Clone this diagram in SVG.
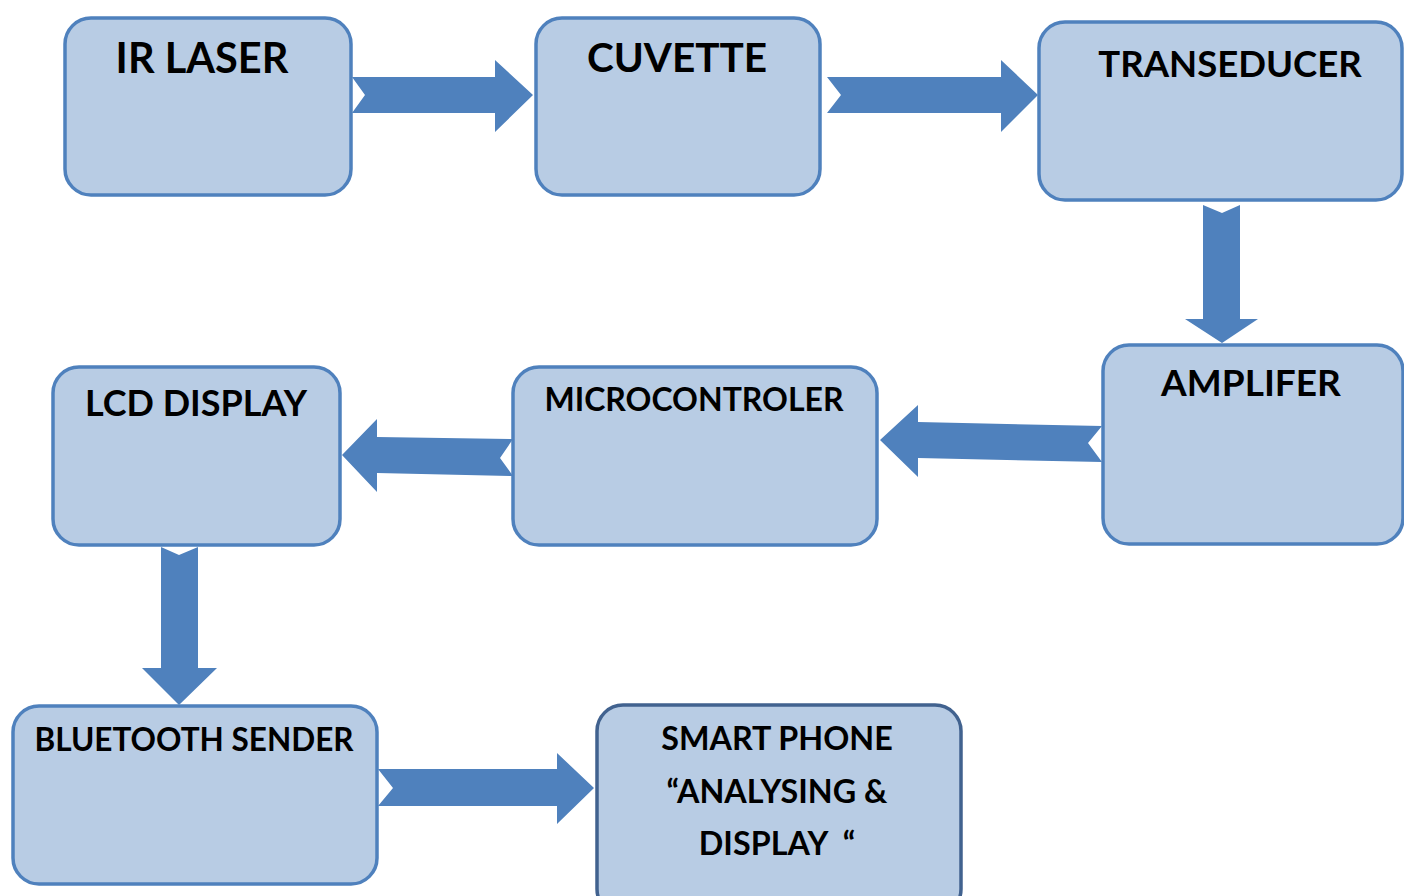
<svg xmlns="http://www.w3.org/2000/svg" width="1404" height="896" viewBox="0 0 1404 896">
  <style>
    .box { fill: #B8CCE4; stroke: #4F81BD; stroke-width: 3.5; }
    .box.dark { stroke: #41628F; }
    .lbl { font-family: "Lato", "Open Sans", "Liberation Sans", sans-serif; font-weight: bold; fill: #000; text-anchor: middle; white-space: pre; }
    .arr { fill: #4F81BD; }
  </style>
  <rect width="1404" height="896" fill="#FFFFFF"/>

  <g id="ir-laser">
    <rect class="box" x="65" y="18" width="286" height="177" rx="26"/>
    <text class="lbl" x="202" y="73" font-size="41.5">IR LASER</text>
  </g>
  <g id="cuvette">
    <rect class="box" x="536" y="18" width="284" height="177" rx="26"/>
    <text class="lbl" x="677" y="72" font-size="40.5">CUVETTE</text>
  </g>
  <g id="transeducer">
    <rect class="box" x="1039" y="22" width="363" height="178" rx="26"/>
    <text class="lbl" x="1230" y="77" font-size="36.5">TRANSEDUCER</text>
  </g>
  <g id="amplifer">
    <rect class="box" x="1103" y="345" width="300" height="199" rx="26"/>
    <text class="lbl" x="1251" y="396" font-size="37">AMPLIFER</text>
  </g>
  <g id="microcontroler">
    <rect class="box" x="513" y="367" width="364" height="178" rx="26"/>
    <text class="lbl" x="694" y="411" font-size="32">MICROCONTROLER</text>
  </g>
  <g id="lcd-display">
    <rect class="box" x="53" y="367" width="287" height="178" rx="26"/>
    <text class="lbl" x="196" y="416" font-size="36">LCD DISPLAY</text>
  </g>
  <g id="bluetooth-sender">
    <rect class="box" x="13" y="706" width="364" height="178" rx="26"/>
    <text class="lbl" x="194" y="751" font-size="31.5">BLUETOOTH SENDER</text>
  </g>
  <g id="smart-phone">
    <rect class="box dark" x="597" y="705" width="364" height="210" rx="26"/>
    <text class="lbl" x="777" y="750" font-size="32.3">SMART PHONE</text>
    <text class="lbl" x="777" y="803" font-size="32.3">“ANALYSING &amp;</text>
    <text class="lbl" x="777" y="855" font-size="32.3">DISPLAY  “</text>
  </g>

  <g id="connectors">
    <polygon class="arr" points="352,77 495,77 495,60 533,95 495,132 495,113 352,113 365,95"/>
    <polygon class="arr" points="827,77 1001,77 1001,60 1038,95 1001,132 1001,113 827,113 841,95"/>
    <polygon class="arr" points="1203,205 1222,213 1240,205 1240,319 1258,319 1222,343 1185,319 1203,319"/>
    <polygon class="arr" points="1102,426 918,422 918,405 880,440 918,477 918,458 1102,462 1088,443"/>
    <polygon class="arr" points="513,439 377,437 377,419 342,455 377,492 377,473 513,476 500,458"/>
    <polygon class="arr" points="161,547 179,555 198,547 198,668 217,668 179,705 142,668 161,668"/>
    <polygon class="arr" points="378,769 557,769 557,753 594,788 557,824 557,806 378,806 393,788"/>
  </g>
</svg>
